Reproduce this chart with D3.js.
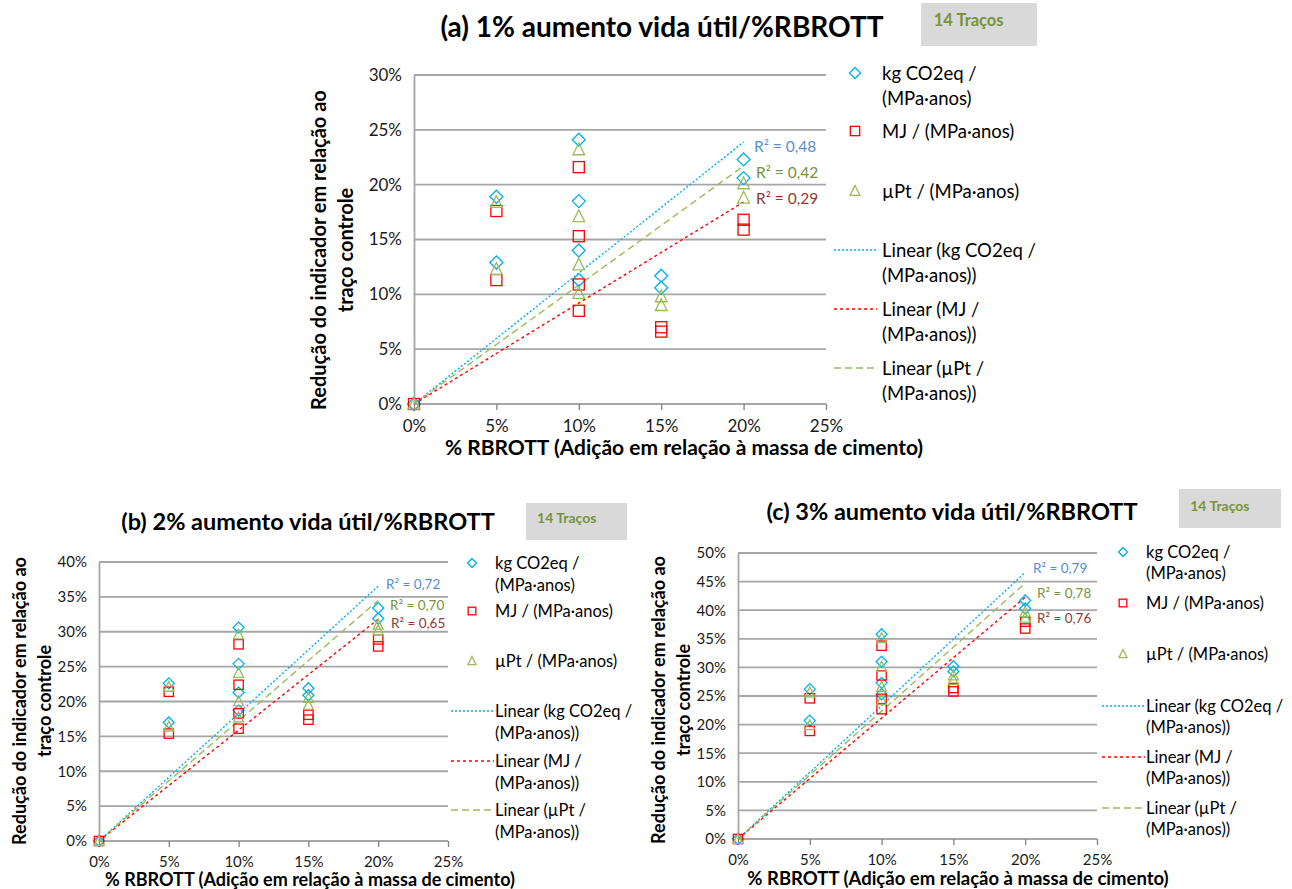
<!DOCTYPE html>
<html>
<head>
<meta charset="utf-8">
<script src="https://cdn.jsdelivr.net/npm/d3@7"></script>
<style>
  body { margin: 0; background: #fff; }
  svg { font-family: Lato, "Noto Sans", sans-serif; }
</style>
</head>
<body>
<div class="visualization"></div>
<script>
// % RBROTT of each trace (control + 10 traces)
var xPct = [0, 5, 5, 10, 10, 10, 10, 15, 15, 20, 20];
var xTicks = [0, 5, 10, 15, 20, 25];

// (a) 1% increase of service life
var co2A = [0, 18.9, 12.9, 24.1, 18.5, 14.0, 11.3, 11.7, 10.6, 22.3, 20.6];
var mjA  = [0, 17.6, 11.3, 21.6, 15.3, 10.9, 8.5, 7.0, 6.6, 16.8, 15.9];
var ptA  = [0, 18.4, 12.3, 23.2, 17.1, 12.7, 10.1, 9.8, 9.0, 20.1, 18.8];
var r2A  = ["0,48", "0,42", "0,29"];

// (b) 2%
var co2B = [0, 22.6, 17.0, 30.6, 25.4, 21.3, 18.7, 21.9, 20.9, 33.4, 31.9];
var mjB  = [0, 21.4, 15.4, 28.2, 22.4, 18.3, 16.1, 18.1, 17.4, 28.9, 27.9];
var ptB  = [0, 22.1, 16.4, 29.6, 24.1, 20.0, 17.7, 20.5, 19.5, 31.0, 30.2];
var r2B  = ["0,72", "0,70", "0,65"];

// (c) 3%
var co2C = [0, 26.2, 20.7, 35.8, 31.0, 27.3, 25.3, 30.2, 29.3, 41.7, 40.3];
var mjC  = [0, 24.6, 18.9, 33.8, 28.6, 24.5, 22.7, 26.4, 25.8, 38.0, 36.8];
var ptC  = [0, 25.6, 19.9, 35.1, 30.1, 26.6, 24.3, 28.6, 27.8, 39.7, 38.7];
var r2C  = ["0,79", "0,78", "0,76"];

var legendLines = [
    ["kg CO2eq /", "(MPa·anos)"],
    ["MJ / (MPa·anos)"],
    ["µPt / (MPa·anos)"],
    ["Linear (kg CO2eq /", "(MPa·anos))"],
    ["Linear (MJ /", "(MPa·anos))"],
    ["Linear (µPt /", "(MPa·anos))"]
];

var colors = ["#00b0f0", "#ff0000", "#9bbb59"];
var r2Colors = ["#558ed5", "#77933c", "#953735"];
var dashes = ["2,2", "3,3", "7,4"];

var svg = d3.select(".visualization").append("svg")
    .attr("width", 1292).attr("height", 889);

var panels = [
    {title: "(a) 1% aumento vida útil/%RBROTT", data: [co2A, mjA, ptA], r2: r2A, yMax: 30,
     left: 414, right: 826, top: 75, bottom: 404, titleX: 662, titleY: 37, titleSize: 28,
     box: [921, 3, 116, 43], boxSize: 16.5, boxTextY: 26, tick: 17, xLabX: 684, xLabY: 455, xLabSize: 21,
     yLabX: 318, yLabCy: 250, yLabSize: 20, yLabGap: 27, mk: 13,
     legX: 855, legTextX: 882, legY: [73, 131, 191, 250, 309, 368], legSize: 18.5, legGap: 25,
     r2X: [754, 756, 756], r2Y: [152, 178, 204], r2Size: 15.5},
    {title: "(b) 2% aumento vida útil/%RBROTT", data: [co2B, mjB, ptB], r2: r2B, yMax: 40,
     left: 99, right: 448, top: 562, bottom: 841, titleX: 308, titleY: 530, titleSize: 23.5,
     box: [526, 503, 101, 37], boxSize: 14, boxTextY: 523, tick: 15, xLabX: 310, xLabY: 886, xLabSize: 18,
     yLabX: 19, yLabCy: 701, yLabSize: 18, yLabGap: 25, mk: 11,
     legX: 472, legTextX: 495, legY: [563, 611, 661, 711, 761, 810], legSize: 16.5, legGap: 22,
     r2X: [386, 390, 391], r2Y: [589, 610, 628], r2Size: 13.5},
    {title: "(c) 3% aumento vida útil/%RBROTT", data: [co2C, mjC, ptC], r2: r2C, yMax: 50,
     left: 738, right: 1097, top: 553, bottom: 839, titleX: 952, titleY: 520, titleSize: 23.5,
     box: [1179, 489, 102, 39], boxSize: 14, boxTextY: 511, tick: 15, xLabX: 958, xLabY: 885, xLabSize: 18.5,
     yLabX: 658, yLabCy: 700, yLabSize: 18, yLabGap: 25, mk: 11,
     legX: 1123, legTextX: 1146, legY: [552, 603, 654, 706, 757, 808], legSize: 16.5, legGap: 21,
     r2X: [1033, 1037, 1037], r2Y: [573, 598, 623], r2Size: 13.5}
];

// least squares slope through the origin (Excel trendline with intercept = 0)
function slopeOrigin(ys){
    var sxy = d3.sum(xPct, function(x, i){ return x * ys[i]; });
    var sxx = d3.sum(xPct, function(x){ return x * x; });
    return sxy / sxx;
}

function drawMarker(g, type, x, y, s, color){
    var h = s / 2;
    if(type == 0){
        g.append("path").attr("d", "M" + x + "," + (y - h) + "L" + (x + h) + "," + y + "L" + x + "," + (y + h) + "L" + (x - h) + "," + y + "Z")
            .attr("fill", "none").attr("stroke", color).attr("stroke-width", 1.3);
    } else if(type == 1){
        g.append("rect").attr("x", x - h * 0.85).attr("y", y - h * 0.85)
            .attr("width", s * 0.85).attr("height", s * 0.85)
            .attr("fill", "none").attr("stroke", color).attr("stroke-width", 1.3);
    } else {
        g.append("path").attr("d", "M" + x + "," + (y - h) + "L" + (x + h * 0.9) + "," + (y + h * 0.8) + "L" + (x - h * 0.9) + "," + (y + h * 0.8) + "Z")
            .attr("fill", "none").attr("stroke", color).attr("stroke-width", 1.3);
    }
}

panels.forEach(function(p){
    var g = svg.append("g");
    var x = d3.scaleLinear().domain([0, 25]).range([p.left, p.right]);
    var y = d3.scaleLinear().domain([0, p.yMax]).range([p.bottom, p.top]);
    var yTicks = d3.range(0, p.yMax + 1, 5);

    // title and box
    g.append("text").attr("x", p.titleX).attr("y", p.titleY).attr("text-anchor", "middle")
        .attr("font-weight", "bold").attr("font-size", p.titleSize).text(p.title);
    g.append("rect").attr("x", p.box[0]).attr("y", p.box[1]).attr("width", p.box[2]).attr("height", p.box[3])
        .attr("fill", "#d9d9d9");
    g.append("text").attr("x", p.box[0] + p.box[2] * 0.11).attr("y", p.boxTextY)
        .attr("font-weight", "bold").attr("font-size", p.boxSize).attr("fill", "#77933c").text("14 Traços");

    // gridlines
    g.selectAll(".grid").data(yTicks.slice(1)).enter().append("line")
        .attr("x1", p.left).attr("x2", p.right)
        .attr("y1", function(d){ return y(d); }).attr("y2", function(d){ return y(d); })
        .attr("stroke", "#a6a6a6").attr("stroke-width", 1.8);

    // axes
    var xAxis = d3.axisBottom(x).tickValues(xTicks).tickSize(6).tickFormat(function(d){ return d + "%"; });
    var gx = g.append("g").attr("transform", "translate(0," + p.bottom + ")").call(xAxis);
    gx.select(".domain").attr("stroke", "#a6a6a6").attr("stroke-width", 1.8).attr("d", "M" + p.left + ",0H" + p.right);
    gx.selectAll(".tick line").attr("stroke", "#808080").attr("stroke-width", 1.3);
    gx.selectAll(".tick text").attr("font-size", p.tick).attr("font-family", "Lato, sans-serif")
        .attr("fill", "#1a1a1a").attr("dy", "1.1em");

    var yAxis = d3.axisLeft(y).tickValues(yTicks).tickSize(0).tickPadding(12).tickFormat(function(d){ return d + "%"; });
    var gy = g.append("g").attr("transform", "translate(" + p.left + ",0)").call(yAxis);
    gy.select(".domain").attr("stroke", "#a6a6a6").attr("stroke-width", 1.8);
    gy.selectAll(".tick text").attr("font-size", p.tick).attr("font-family", "Lato, sans-serif").attr("fill", "#1a1a1a");

    // axis titles
    g.append("text").attr("x", p.xLabX).attr("y", p.xLabY).attr("text-anchor", "middle")
        .attr("font-weight", "bold").attr("font-size", p.xLabSize)
        .text("% RBROTT (Adição em relação à massa de cimento)");
    ["Redução do indicador em relação ao", "traço controle"].forEach(function(t, i){
        var tx = p.yLabX + i * p.yLabGap;
        g.append("text").attr("transform", "translate(" + tx + "," + p.yLabCy + ") rotate(-90)")
            .attr("text-anchor", "middle").attr("dominant-baseline", "central")
            .attr("font-weight", "bold").attr("font-size", p.yLabSize).text(t);
    });

    // trendlines
    p.data.forEach(function(ys, k){
        var m = slopeOrigin(ys);
        g.append("line").attr("x1", x(0)).attr("y1", y(0)).attr("x2", x(20)).attr("y2", y(m * 20))
            .attr("stroke", colors[k]).attr("stroke-width", 1.4).attr("stroke-dasharray", dashes[k]);
    });

    // points
    p.data.forEach(function(ys, k){
        ys.forEach(function(v, i){
            drawMarker(g, k, x(xPct[i]), y(v), p.mk, colors[k]);
        });
    });

    // R² labels
    p.r2.forEach(function(r, k){
        g.append("text").attr("x", p.r2X[k]).attr("y", p.r2Y[k]).attr("font-size", p.r2Size)
            .attr("fill", r2Colors[k]).text("R² = " + r);
    });

    // legend
    legendLines.forEach(function(lines, k){
        var ly = p.legY[k];
        if(k < 3){
            drawMarker(g, k, p.legX, ly, p.mk - 2, colors[k]);
        } else {
            g.append("line").attr("x1", p.legX - 21).attr("x2", p.legX + 22).attr("y1", ly).attr("y2", ly)
                .attr("stroke", colors[k - 3]).attr("stroke-width", 1.3).attr("stroke-dasharray", dashes[k - 3]);
        }
        lines.forEach(function(t, j){
            g.append("text").attr("x", p.legTextX).attr("y", ly + j * p.legGap)
                .attr("dominant-baseline", "central").attr("font-size", p.legSize).text(t);
        });
    });
});
</script>
</body>
</html>
